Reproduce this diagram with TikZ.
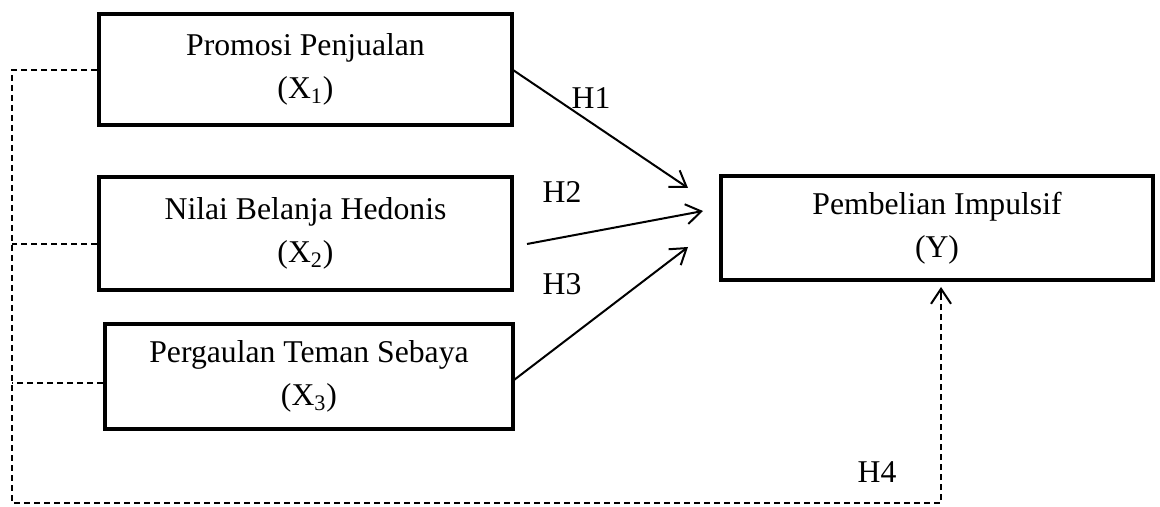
\documentclass[tikz,border=0pt]{standalone}
\usepackage{fontspec}
\setmainfont{Liberation Serif}
\usetikzlibrary{arrows.meta}
\begin{document}
\begin{tikzpicture}[x=0.5pt,y=-0.5pt,
  box/.style={draw, line width=2.2pt, align=center, inner sep=0pt,
    font=\fontsize{15.85}{21.5}\selectfont},
  tipopen/.style={-{Straight Barb[length=7.5pt,width=10pt,line width=1pt]}},
  arr/.style={line width=1pt, tipopen},
  dashln/.style={line width=0.9pt, dash pattern=on 3pt off 2pt},
  lbl/.style={font=\fontsize{15.85}{19}\selectfont, inner sep=0pt}]
\useasboundingbox (0,0) rectangle (1160,507);
% boxes
\node[box, minimum width=206.5pt, minimum height=55.5pt] (X1) at (305.5,69.5)
  {Promosi Penjualan\\(X\textsubscript{1})};
\node[box, minimum width=206.5pt, minimum height=56.5pt] (X2) at (305.5,233.5)
  {Nilai Belanja Hedonis\\(X\textsubscript{2})};
\node[box, minimum width=204pt, minimum height=52.5pt] (X3) at (309,376.5)
  {Pergaulan Teman Sebaya\\(X\textsubscript{3})};
\node[box, minimum width=216pt, minimum height=52pt] (Y) at (937,228)
  {Pembelian Impulsif\\(Y)};
% arrow end points
\coordinate (s1) at (513,70);
\coordinate (t1) at (688,188);
\coordinate (s2) at (527,244);
\coordinate (t2) at (703,211);
\coordinate (s3) at (514,380);
\coordinate (t3) at (688,247);
\draw[arr] (s1) -- (t1);
\draw[arr] (s2) -- (t2);
\draw[arr] (s3) -- (t3);
% labels
\node[lbl] (h1) at (591,98) {H1};
\node[lbl] (h2) at (562,192) {H2};
\node[lbl] (h3) at (562,284) {H3};
\node[lbl] (h4) at (877,472) {H4};
% dashed connections
\coordinate (d1) at (12,70);
\coordinate (d2) at (12,244);
\coordinate (d3) at (12,383);
\coordinate (d4) at (12,503);
\coordinate (d5) at (941,503);
\coordinate (t4) at (941,287);
\coordinate (t4b) at (941,299);
\coordinate (e1) at (97,70);
\coordinate (e2) at (97,244);
\coordinate (e3) at (103,383);
\draw[dashln] (e1) -- (d1) -- (d4) -- (d5) -- (t4b);
\draw[dashln] (e2) -- (d2);
\draw[dashln] (e3) -- (d3);
\draw[line width=0.9pt, tipopen] (t4b) -- (t4);
\end{tikzpicture}
\end{document}
